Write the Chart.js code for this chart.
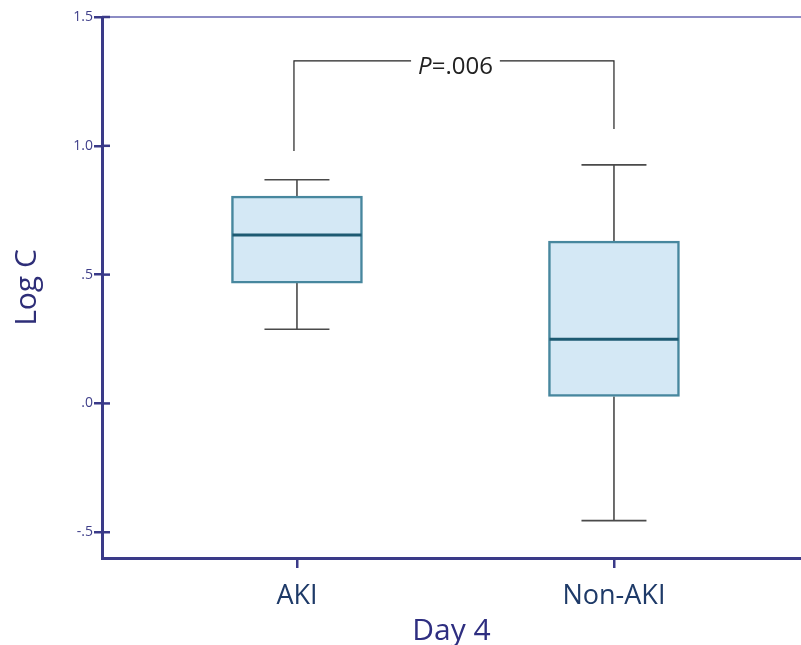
<!DOCTYPE html>
<html>
<head>
<meta charset="utf-8">
<script src="https://cdn.jsdelivr.net/npm/chart.js@4"></script>
<style>
  html, body { margin: 0; padding: 0; background: #fff; }
  #wrap { width: 801px; height: 645px; }
</style>
</head>
<body>
<div id="wrap"><canvas id="boxChart" width="801" height="645"></canvas></div>
<script>
// data
const groups = ["AKI", "Non-AKI"];
const groupPos = [1, 2];
const whiskerLow = [0.288, -0.455];
const q1 = [0.467, 0.027];
const median = [0.654, 0.249];
const q3 = [0.805, 0.630];
const whiskerHigh = [0.868, 0.926];
const yTicks = [-0.5, 0, 0.5, 1.0, 1.5];

// significance bracket
const pLabel = "P=.006";
const bracketTop = 1.33;
const bracketFeet = [0.98, 1.065];

const navy = "#3a3a88";
const fontFam = "'Open Sans', 'DejaVu Sans', sans-serif";

function fmtTick(v) {
  return v.toFixed(1).replace(/^(-?)0\./, "$1.");
}

// whiskers, median lines, bracket, top frame line
const boxExtras = {
  id: "boxExtras",
  beforeDatasetsDraw(chart) {
    const ctx = chart.ctx, x = chart.scales.x, y = chart.scales.y;
    const area = chart.chartArea;
    ctx.save();
    // top frame line
    ctx.strokeStyle = "#8c8cc4";
    ctx.lineWidth = 2;
    ctx.beginPath();
    ctx.moveTo(area.left, area.top);
    ctx.lineTo(area.right, area.top);
    ctx.stroke();
    // inner half of y ticks
    ctx.strokeStyle = navy;
    ctx.lineWidth = 2.5;
    yTicks.forEach(v => {
      const py = y.getPixelForValue(v);
      ctx.beginPath();
      ctx.moveTo(area.left, py);
      ctx.lineTo(area.left + 8, py);
      ctx.stroke();
    });
    // whiskers
    ctx.strokeStyle = "#4a4a4a";
    ctx.lineWidth = 1.6;
    groupPos.forEach((g, i) => {
      const cx = x.getPixelForValue(g);
      const capHalf = (x.getPixelForValue(g + 0.1025) - x.getPixelForValue(g - 0.1025)) / 2;
      [[whiskerLow[i], q1[i]], [whiskerHigh[i], q3[i]]].forEach(([end, edge]) => {
        const pe = y.getPixelForValue(end), pb = y.getPixelForValue(edge);
        ctx.beginPath();
        ctx.moveTo(cx, pb);
        ctx.lineTo(cx, pe);
        ctx.moveTo(cx - capHalf, pe);
        ctx.lineTo(cx + capHalf, pe);
        ctx.stroke();
      });
    });
    ctx.restore();
  },
  afterDatasetsDraw(chart) {
    const ctx = chart.ctx, x = chart.scales.x, y = chart.scales.y;
    ctx.save();
    // medians
    ctx.strokeStyle = "#1d5a72";
    ctx.lineWidth = 3;
    chart.getDatasetMeta(0).data.forEach((bar, i) => {
      const py = y.getPixelForValue(median[i]);
      ctx.beginPath();
      ctx.moveTo(bar.x - bar.width / 2 + 1, py);
      ctx.lineTo(bar.x + bar.width / 2 - 1, py);
      ctx.stroke();
    });
    // bracket
    const xl = x.getPixelForValue(groupPos[0]) - 3;
    const xr = x.getPixelForValue(groupPos[1]);
    const yt = y.getPixelForValue(bracketTop);
    const mid = x.getPixelForValue((groupPos[0] + groupPos[1]) / 2);
    ctx.font = "italic 24px " + fontFam;
    const wP = ctx.measureText("P").width;
    ctx.font = "24px " + fontFam;
    const wRest = ctx.measureText(pLabel.slice(1)).width;
    const tw = wP + wRest;
    const gap = tw / 2 + 7;
    ctx.strokeStyle = "#222";
    ctx.lineWidth = 1.2;
    ctx.beginPath();
    ctx.moveTo(xl, y.getPixelForValue(bracketFeet[0]));
    ctx.lineTo(xl, yt);
    ctx.lineTo(mid - gap, yt);
    ctx.moveTo(mid + gap, yt);
    ctx.lineTo(xr, yt);
    ctx.lineTo(xr, y.getPixelForValue(bracketFeet[1]));
    ctx.stroke();
    ctx.fillStyle = "#222";
    ctx.textBaseline = "middle";
    ctx.textAlign = "left";
    ctx.font = "italic 24px " + fontFam;
    ctx.fillText("P", mid - tw / 2, yt + 6);
    ctx.font = "24px " + fontFam;
    ctx.fillText(pLabel.slice(1), mid - tw / 2 + wP, yt + 6);
    ctx.restore();
  }
};

new Chart(document.getElementById("boxChart"), {
  type: "bar",
  data: {
    datasets: [{
      label: "IQR",
      data: groupPos.map((g, i) => ({ x: g, y: [q1[i], q3[i]] })),
      backgroundColor: "#d4e8f5",
      borderColor: "#47879e",
      borderWidth: 2.5,
      borderSkipped: false,
      barThickness: 131
    }]
  },
  options: {
    responsive: false,
    animation: false,
    layout: { padding: { top: 17, right: 0, left: 0, bottom: 0 } },
    plugins: {
      legend: { display: false },
      tooltip: { enabled: false }
    },
    scales: {
      x: {
        type: "linear",
        offset: false,
        min: 0.385,
        max: 2.59,
        afterBuildTicks: s => { s.ticks = groupPos.map(v => ({ value: v })); },
        afterFit: s => { s.height = 87; },
        ticks: {
          callback: v => groups[groupPos.indexOf(v)] || "",
          color: "#1e3a68",
          font: { family: fontFam, size: 27 },
          padding: 12
        },
        grid: { offset: false, drawOnChartArea: false, tickLength: 10, color: navy, lineWidth: 2.5 },
        border: { color: navy, width: 3 },
        title: {
          display: true,
          text: "Day 4",
          color: "#2e2e80",
          font: { family: fontFam, size: 30 },
          padding: { top: 0, bottom: -4 }
        }
      },
      y: {
        min: -0.6,
        max: 1.5,
        afterBuildTicks: s => { s.ticks = yTicks.map(v => ({ value: v })); },
        afterFit: s => { s.width = 102; },
        ticks: {
          callback: v => fmtTick(v),
          color: "#3f3f8a",
          font: { family: fontFam, size: 14 },
          padding: 1
        },
        grid: { drawOnChartArea: false, tickLength: 8, color: navy, lineWidth: 2.5 },
        border: { color: navy, width: 3 },
        title: {
          display: true,
          text: "Log C",
          color: "#2e2e78",
          font: { family: fontFam, size: 30 },
          padding: { top: 9, bottom: 0 }
        }
      }
    }
  },
  plugins: [boxExtras]
});
</script>
</body>
</html>
